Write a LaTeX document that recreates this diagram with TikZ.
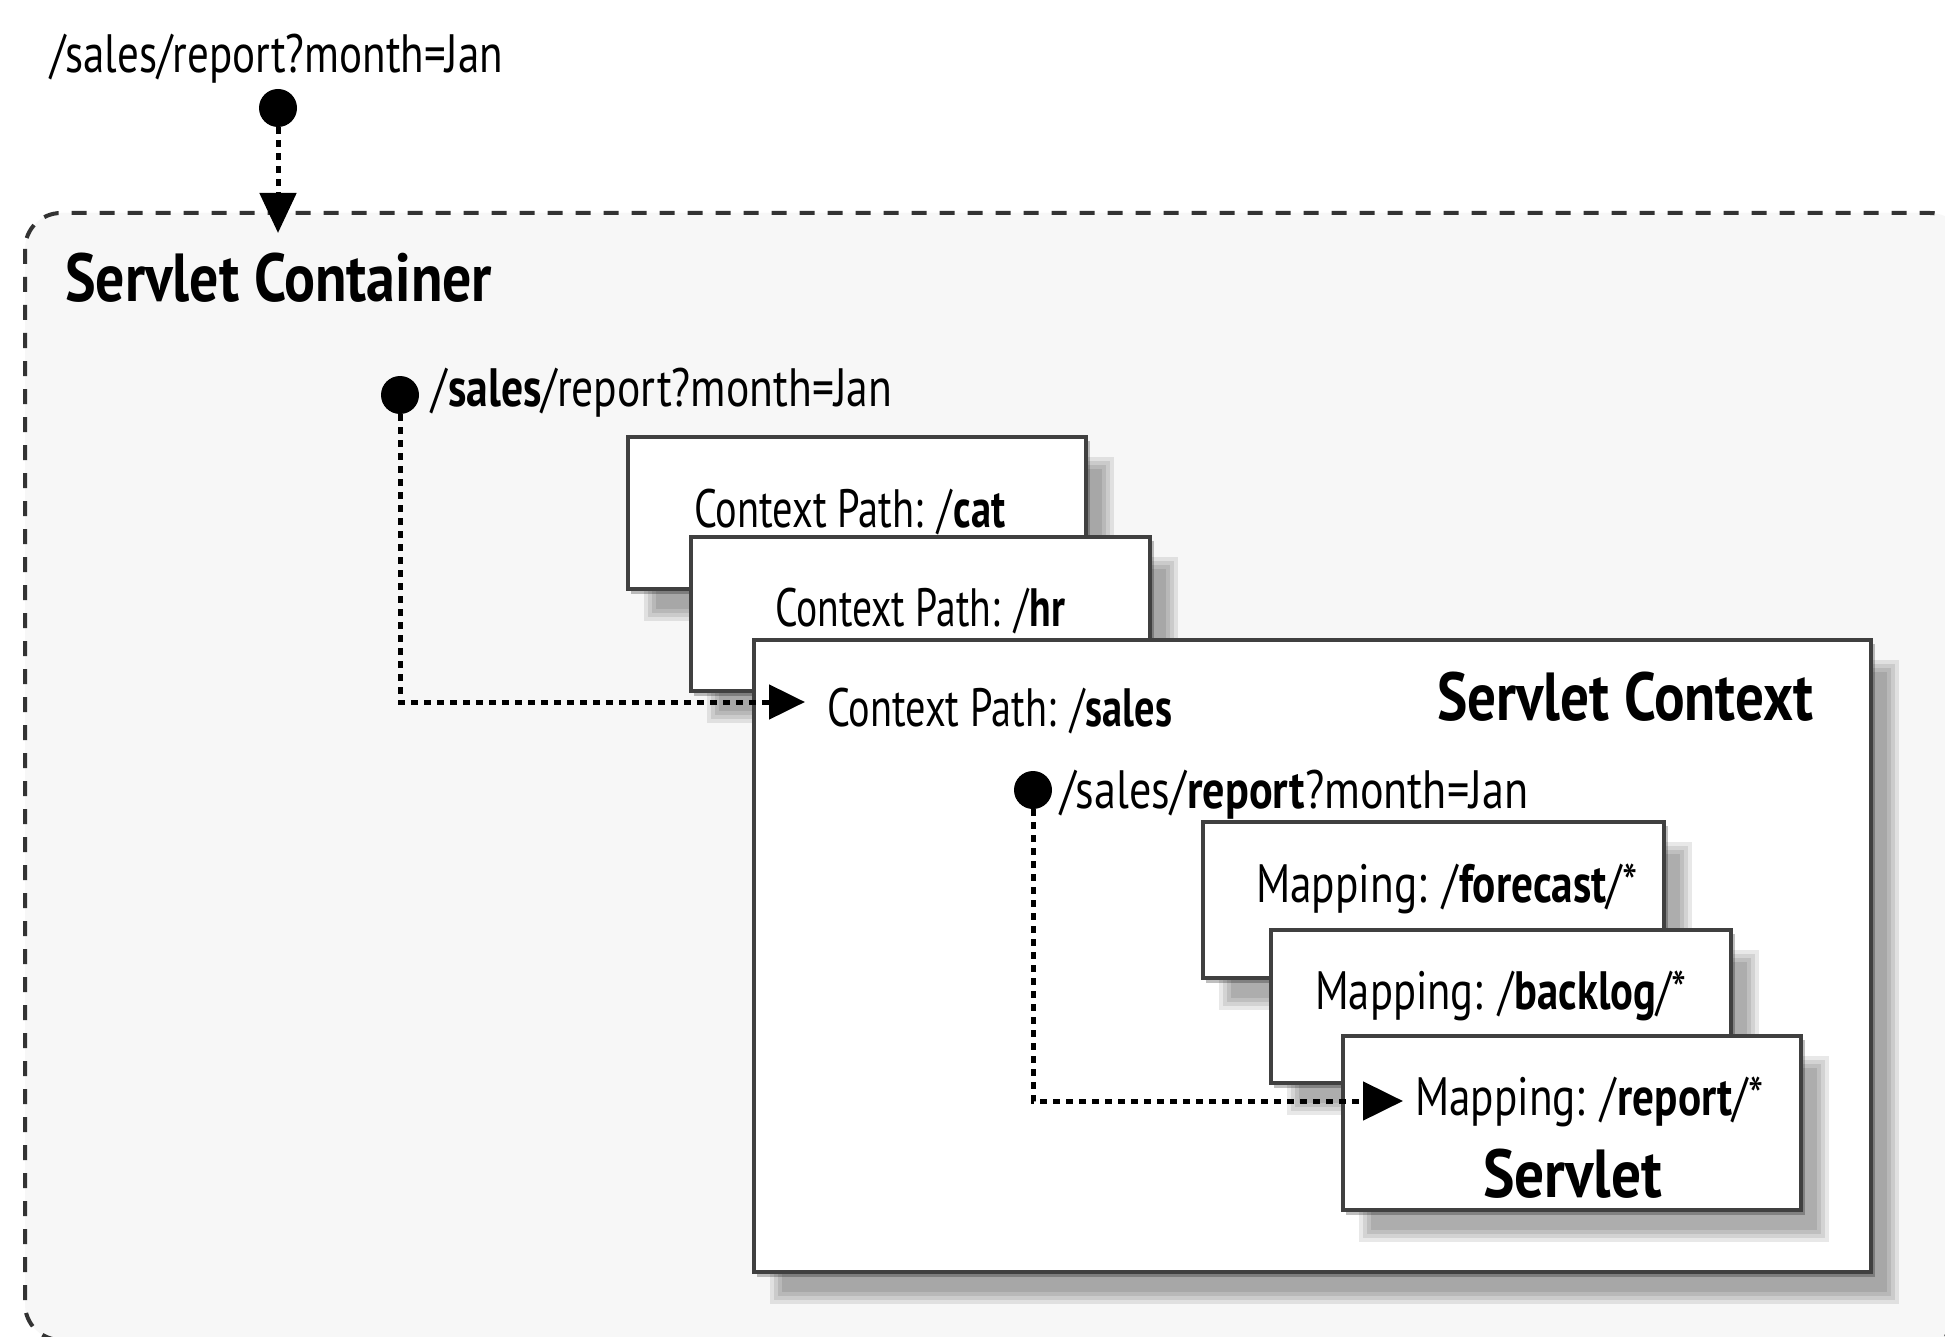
\documentclass[tikz,border=0pt]{standalone}
\usepackage{fontspec}
\setmainfont{PT Sans}
\usepackage{graphicx}
\usetikzlibrary{arrows.meta}
\definecolor{cfill}{HTML}{F7F7F7}
\definecolor{bord}{HTML}{404040}
\newcommand\fitw[2]{\resizebox{#1pt}{\height}{#2}}
\newcommand\rg{\fontsize{54}{60}\selectfont}
\newcommand\bd{\fontsize{68}{74}\selectfont\bfseries}
\newcommand\shbox[5]{%
  \foreach \r in {0,4,8,12}{%
    \fill[black,opacity=0.09] (#2+28-\r,#3+32-\r) rectangle (#4+16+\r,#5+20+\r);
  }%
  \fill[black,opacity=0.25] (#2+3,#3+4) rectangle (#4+4,#5+5);
  \node[ctx, minimum width={(#4-#2)*1pt}, minimum height={(#5-#3)*1pt}] (#1) at ({(#2+#4)/2},{(#3+#5)/2}) {};
}
\begin{document}
\begin{tikzpicture}[x=1pt,y=-1pt,
  ctx/.style={draw=bord, line width=3.5pt, fill=white, inner sep=0pt},
  dot/.style={circle, fill=black, minimum size=38pt, inner sep=0pt},
  conn/.style={line width=5pt, dash pattern=on 7pt off 6pt, black},
  lbl/.style={anchor=base west, inner sep=0pt, text=black}]
\useasboundingbox (0,0) rectangle (1945,1337);
\fill[white] (0,0) rectangle (1945,1337);
\begin{scope}
\clip (0,0) rectangle (1945,1337);
% container
\draw[fill=cfill, draw=black!80, line width=4pt, dash pattern=on 15pt off 13pt, rounded corners=36pt]
  (25,213) rectangle (1966,1340);
\node[lbl] (contlbl) at (65,302) {\bd\fitw{427}{Servlet Container}};
% top request
\node[lbl] (req1) at (50,73) {\rg\fitw{453}{/sales/report?month=Jan}};
\node[dot] (d1) at (278,108) {};
\coordinate (a1) at (278,233);
\draw[conn, -{Triangle[length=40pt,width=36pt]}] (d1) -- (a1);
% context boxes
\shbox{cat}{628}{437}{1086}{589}
\node[lbl] (catlbl) at (694,527) {\rg\fitw{311}{Context Path: /\textbf{cat}}};
\shbox{hr}{691}{537}{1150}{691}
\node[lbl] (hrlbl) at (775,626) {\rg\fitw{290}{Context Path: /\textbf{hr}}};
\shbox{sales}{754}{640}{1871}{1272}
\node[lbl] (saleslbl) at (827,726) {\rg\fitw{345}{Context Path: /\textbf{sales}}};
\node[lbl] (ctxlbl) at (1437,720) {\bd\fitw{376}{Servlet Context}};
% second request
\node[dot] (d2) at (400,395) {};
\node[lbl] (req2) at (431,406) {\rg\fitw{461}{/\textbf{sales}/report?month=Jan}};
\coordinate (a2) at (805,702);
\draw[conn, -{Triangle[length=36pt,width=34pt]}] (d2) |- (a2);
% servlet boxes
\shbox{fc}{1203}{822}{1664}{978}
\node[lbl] (fclbl) at (1256,902) {\rg\fitw{381}{Mapping: /\textbf{forecast}/*}};
\shbox{bl}{1271}{930}{1731}{1083}
\node[lbl] (bllbl) at (1315,1009) {\rg\fitw{371}{Mapping: /\textbf{backlog}/*}};
\shbox{rep}{1343}{1036}{1801}{1210}
\node[lbl] (replbl) at (1415,1115) {\rg\fitw{348}{Mapping: /\textbf{report}/*}};
\node[lbl] (svlbl) at (1483,1197) {\bd\fitw{179}{Servlet}};
% third request
\node[dot] (d3) at (1033,790) {};
\node[lbl] (req3) at (1060,808) {\rg\fitw{468}{/sales/\textbf{report}?month=Jan}};
\coordinate (a3) at (1403,1101);
\draw[conn, -{Triangle[length=40pt,width=38pt]}] (d3) |- (a3);
\end{scope}
\end{tikzpicture}
\end{document}
